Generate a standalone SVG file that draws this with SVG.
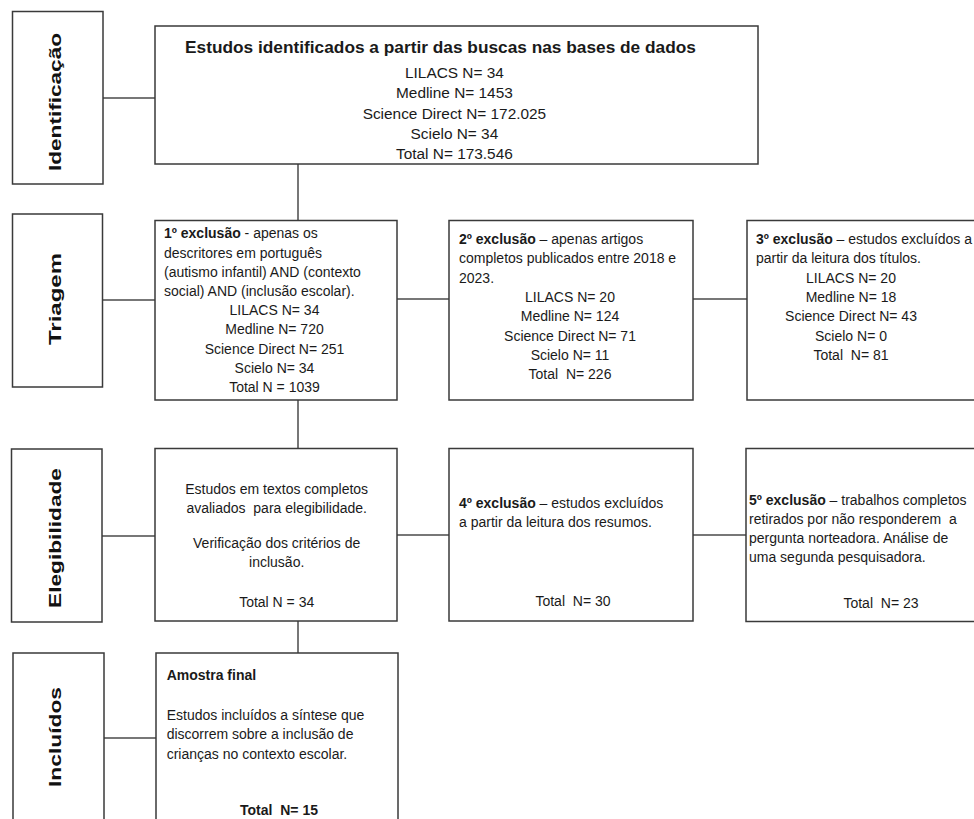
<svg xmlns="http://www.w3.org/2000/svg" width="974" height="819" viewBox="0 0 974 819">
<style>
  .bg { fill: #ffffff; }
  .box { fill: #ffffff; stroke: #3a3a3a; stroke-width: 1.5; }
  .conn line { stroke: #4a4a4a; stroke-width: 1.5; }
  text { font-family: "Liberation Sans", Arial, sans-serif; fill: #1a1a1a; }
  .lbl { font-size: 17px; font-weight: bold; fill: #111; }
  .t { font-size: 14px; }
  .tm { font-size: 15.4px; }
  .c { text-anchor: middle; }
  .b { font-weight: bold; }
</style>
<rect class="bg" x="0" y="0" width="974" height="819"/>

<g id="connectors" class="conn">
  <line x1="103" y1="98" x2="155" y2="98"/>
  <line x1="298" y1="164" x2="298" y2="220.5"/>
  <line x1="103" y1="300" x2="155" y2="300"/>
  <line x1="397" y1="299" x2="449" y2="299"/>
  <line x1="693" y1="299" x2="747" y2="299"/>
  <line x1="298" y1="400" x2="298" y2="448.5"/>
  <line x1="102" y1="536" x2="155" y2="536"/>
  <line x1="397" y1="535" x2="449" y2="535"/>
  <line x1="693" y1="535" x2="746" y2="535"/>
  <line x1="298" y1="621" x2="298" y2="653"/>
  <line x1="104" y1="738" x2="156" y2="738"/>
</g>

<g id="stage-identificacao">
  <rect class="box" x="12.5" y="11.5" width="90.5" height="172.5"/>
  <text class="lbl c" transform="translate(61,102) rotate(-90)" textLength="138" lengthAdjust="spacingAndGlyphs">Identificação</text>
</g>
<g id="stage-triagem">
  <rect class="box" x="12.5" y="214" width="90" height="173"/>
  <text class="lbl c" transform="translate(61,299) rotate(-90)" textLength="92" lengthAdjust="spacingAndGlyphs">Triagem</text>
</g>
<g id="stage-elegibilidade">
  <rect class="box" x="11.5" y="449" width="90.5" height="173"/>
  <text class="lbl c" transform="translate(61,538) rotate(-90)" textLength="140" lengthAdjust="spacingAndGlyphs">Elegibilidade</text>
</g>
<g id="stage-incluidos">
  <rect class="box" x="13" y="653" width="91" height="180"/>
  <text class="lbl c" transform="translate(61,737) rotate(-90)" textLength="100" lengthAdjust="spacingAndGlyphs">Incluídos</text>
</g>

<g id="identificados">
  <rect class="box" x="155" y="26" width="603" height="138"/>
  <text class="b" x="185" y="53" font-size="17.3">Estudos identificados a partir das buscas nas bases de dados</text>
  <text class="tm c" x="454.4" y="78">LILACS N= 34</text>
  <text class="tm c" x="454.4" y="98.3">Medline N= 1453</text>
  <text class="tm c" x="454.4" y="118.6">Science Direct N= 172.025</text>
  <text class="tm c" x="454.4" y="138.9">Scielo N= 34</text>
  <text class="tm c" x="454.4" y="159.2">Total N= 173.546</text>
</g>

<g id="exclusao1">
  <rect class="box" x="155" y="220.5" width="242" height="179.5"/>
  <text class="t" x="164" y="238.3"><tspan class="b">1º exclusão</tspan> - apenas os</text>
  <text class="t" x="164" y="257.5">descritores em português</text>
  <text class="t" x="164" y="276.7">(autismo infantil) AND (contexto</text>
  <text class="t" x="164" y="295.9">social) AND (inclusão escolar).</text>
  <text class="t c" x="274.5" y="315.1">LILACS N= 34</text>
  <text class="t c" x="274.5" y="334.3">Medline N= 720</text>
  <text class="t c" x="274.5" y="353.5">Science Direct N= 251</text>
  <text class="t c" x="274.5" y="372.7">Scielo N= 34</text>
  <text class="t c" x="274.5" y="391.9">Total N = 1039</text>
</g>

<g id="exclusao2">
  <rect class="box" x="449" y="220.5" width="244" height="179.5"/>
  <text class="t" x="459" y="244"><tspan class="b">2º exclusão</tspan> – apenas artigos</text>
  <text class="t" x="459" y="263.3">completos publicados entre 2018 e</text>
  <text class="t" x="459" y="282.6">2023.</text>
  <text class="t c" x="570" y="301.9">LILACS N= 20</text>
  <text class="t c" x="570" y="321.2">Medline N= 124</text>
  <text class="t c" x="570" y="340.5">Science Direct N= 71</text>
  <text class="t c" x="570" y="359.8">Scielo N= 11</text>
  <text class="t c" x="570" y="379.1" xml:space="preserve">Total  N= 226</text>
</g>

<g id="exclusao3">
  <rect class="box" x="747" y="220.5" width="260" height="179.5"/>
  <text class="t" x="756" y="244"><tspan class="b">3º exclusão</tspan> – estudos excluídos a</text>
  <text class="t" x="756" y="263.3">partir da leitura dos títulos.</text>
  <text class="t c" x="851" y="282.6">LILACS N= 20</text>
  <text class="t c" x="851" y="301.9">Medline N= 18</text>
  <text class="t c" x="851" y="321.2">Science Direct N= 43</text>
  <text class="t c" x="851" y="340.5">Scielo N= 0</text>
  <text class="t c" x="851" y="359.8" xml:space="preserve">Total  N= 81</text>
</g>

<g id="elegibilidade">
  <rect class="box" x="155" y="448.5" width="242" height="172.5"/>
  <text class="t c" x="276.7" y="494">Estudos em textos completos</text>
  <text class="t c" x="276.7" y="513" xml:space="preserve">avaliados  para elegibilidade.</text>
  <text class="t c" x="276.7" y="548.3">Verificação dos critérios de</text>
  <text class="t c" x="276.7" y="567.3">inclusão.</text>
  <text class="t c" x="276.7" y="607">Total N = 34</text>
</g>

<g id="exclusao4">
  <rect class="box" x="449" y="448.5" width="244" height="172.5"/>
  <text class="t" x="459" y="508"><tspan class="b">4º exclusão</tspan> – estudos excluídos</text>
  <text class="t" x="459" y="527">a partir da leitura dos resumos.</text>
  <text class="t c" x="573" y="606" xml:space="preserve">Total  N= 30</text>
</g>

<g id="exclusao5">
  <rect class="box" x="746" y="448.5" width="260" height="173"/>
  <text class="t" x="749" y="505"><tspan class="b">5º exclusão</tspan> – trabalhos completos</text>
  <text class="t" x="749" y="524" xml:space="preserve">retirados por não responderem  a</text>
  <text class="t" x="749" y="543">pergunta norteadora. Análise de</text>
  <text class="t" x="749" y="562">uma segunda pesquisadora.</text>
  <text class="t c" x="881" y="608" xml:space="preserve">Total  N= 23</text>
</g>

<g id="amostra-final">
  <rect class="box" x="156" y="653" width="242" height="180"/>
  <text class="t b" x="166.7" y="680">Amostra final</text>
  <text class="t" x="166.7" y="720">Estudos incluídos a síntese que</text>
  <text class="t" x="166.7" y="739.3">discorrem sobre a inclusão de</text>
  <text class="t" x="166.7" y="759">crianças no contexto escolar.</text>
  <text class="t b c" x="279" y="815" xml:space="preserve">Total  N= 15</text>
</g>
</svg>
